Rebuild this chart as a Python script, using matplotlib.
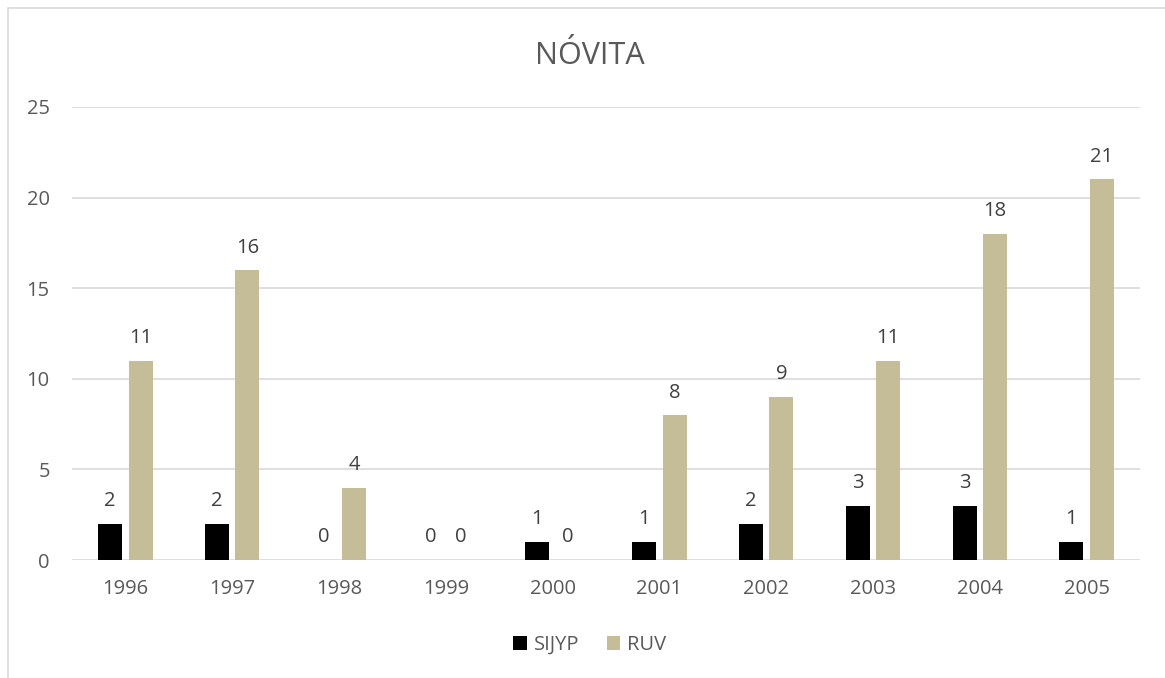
import numpy as np
import matplotlib.pyplot as plt
from matplotlib.patches import Rectangle

plt.rcParams['font.family'] = ['Open Sans', 'DejaVu Sans']

# Datos
years = ['1996', '1997', '1998', '1999', '2000', '2001', '2002', '2003', '2004', '2005']
sijyp = [2, 2, 0, 0, 1, 1, 2, 3, 3, 1]
ruv = [11, 16, 4, 0, 0, 8, 9, 11, 18, 21]

text_color = '#595959'
grid_color = '#D9D9D9'

fig = plt.figure(figsize=(11.65, 6.78), dpi=100)
ax = fig.add_axes([72 / 1165, 1 - 560 / 678, (1140 - 72) / 1165, (560 - 107) / 678])

x = np.arange(len(years))
w = 0.225
gap = 0.06
off = (w + gap) / 2

b1 = ax.bar(x - off, sijyp, w, color='#000000', label='SIJYP', zorder=3)
b2 = ax.bar(x + off, ruv, w, color='#C4BD97', label='RUV', zorder=3)

for bars in (b1, b2):
    ax.bar_label(bars, padding=9, fontsize=14.5, color='#404040')

ax.set_xlim(-0.5, len(years) - 0.5)
ax.set_ylim(0, 25)
ax.set_yticks(range(0, 26, 5))
ax.set_xticks(x)
ax.set_xticklabels(years)
ax.tick_params(axis='both', length=0, labelsize=14.5, colors=text_color)
ax.tick_params(axis='x', pad=14)
ax.tick_params(axis='y', pad=16)

ax.grid(axis='y', color=grid_color, linewidth=1.2, zorder=0)
for s in ax.spines.values():
    s.set_visible(False)

fig.text(590 / 1165, 1 - 56 / 678, 'NÓVITA', ha='center', va='center',
         fontsize=22, color=text_color)

leg = fig.legend(handles=[b1, b2], loc='center', bbox_to_anchor=(590 / 1165, 1 - 645 / 678),
                 ncol=2, frameon=False, fontsize=14.5, handlelength=0.65, handleheight=0.65,
                 handletextpad=0.35, columnspacing=1.4, labelcolor=text_color)

# Borde del área del gráfico
fig.add_artist(Rectangle((8 / 1165, -0.05), 1.1, 1 - 8 / 678 + 0.05,
                         transform=fig.transFigure, fill=False,
                         edgecolor=grid_color, linewidth=1.2))

fig.savefig('out.png', dpi=100)
